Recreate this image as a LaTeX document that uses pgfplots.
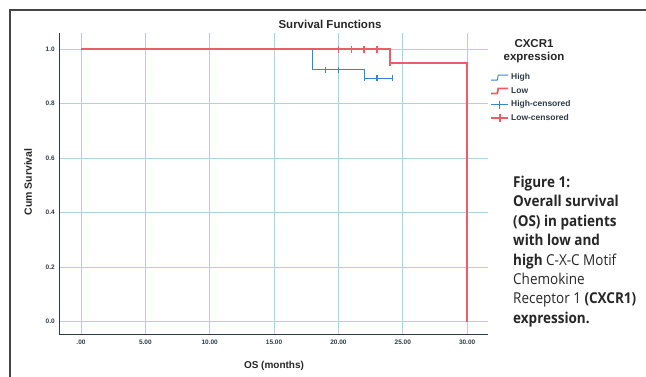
\documentclass[border=0pt]{standalone}
\usepackage{pgfplots}
\pgfplotsset{compat=1.18}
\usepackage{fontspec}
\setmainfont{Liberation Sans}
\newfontfamily\capfont[FakeStretch=0.9]{Open Sans}
\definecolor{hiblue}{RGB}{60,130,205}
\definecolor{lored}{RGB}{232,95,105}
\definecolor{gridc}{RGB}{178,208,222}
\definecolor{tickc}{RGB}{45,60,70}
\definecolor{framec}{RGB}{70,70,70}
\begin{document}
\begin{tikzpicture}
\path[use as bounding box] (0pt,0pt) rectangle (646pt,377pt);
\draw[line width=1.6pt, framec] (10pt,0pt) -- (10pt,367pt) -- (646pt,367pt);
\begin{axis}[
  at={(59.3pt,43pt)}, anchor=south west,
  scale only axis, width=428.7pt, height=301pt,
  xmin=-1.686, xmax=31.62, ymin=-0.045, ymax=1.0587,
  axis x line=bottom, axis y line=left,
  axis line style={-, color=tickc, line width=0.8pt},
  xtick={0,5,10,15,20,25,30},
  xticklabels={.00,5.00,10.00,15.00,20.00,25.00,30.00},
  ytick={0,0.2,0.4,0.6,0.8,1.0},
  yticklabels={0.0,0.2,0.4,0.6,0.8,1.0},
  major tick length=0pt,
  grid=major, grid style={gridc, line width=0.6pt},
  tick label style={font=\fontsize{6.5}{7.5}\selectfont\bfseries, color=tickc},
  /pgf/number format/assume math mode=true,
  xticklabel style={yshift=-2pt},
  yticklabel style={xshift=-1pt},
  clip=false,
  legend style={at={(1.005,0.872)}, anchor=north west, draw=none, fill=none,
    font=\fontsize{8.5}{9.5}\selectfont\bfseries, text=tickc,
    row sep=2pt, inner sep=0pt, cells={anchor=west}},
  legend cell align=left,
]
\addplot[const plot, hiblue, line width=1pt,
  legend image code/.code={\draw[hiblue, line width=0.9pt] (0pt,-2.5pt) -- (6pt,-2.5pt) -- (7pt,2.5pt) -- (17pt,2.5pt);}]
  coordinates {(0,1) (18,0.924) (22,0.893) (24.2,0.893)};
\addlegendentry{High}
\addplot[const plot, lored, line width=2pt,
  legend image code/.code={\draw[lored, line width=1.8pt] (0pt,-2.5pt) -- (6pt,-2.5pt) -- (7pt,2.5pt) -- (17pt,2.5pt);}]
  coordinates {(0,1) (24,0.949) (30,0)};
\addlegendentry{Low}
\addplot[only marks, mark=|, mark size=3.2pt, hiblue, mark options={line width=1.1pt},
  legend image code/.code={\draw[hiblue, line width=0.9pt] (0pt,0pt) -- (17pt,0pt); \draw[hiblue, line width=1pt] (8.5pt,-4pt) -- (8.5pt,4pt);}]
  coordinates {(19,0.924) (20,0.924) (22,0.893) (23,0.893) (24.2,0.893)};
\addlegendentry{High-censored}
\addplot[only marks, mark=|, mark size=3.5pt, lored, mark options={line width=1.6pt},
  legend image code/.code={\draw[lored, line width=1.8pt] (0pt,0pt) -- (17pt,0pt); \draw[lored, line width=1.6pt] (8.5pt,-4pt) -- (8.5pt,4pt);}]
  coordinates {(20,1) (21,1) (22,1) (23,1) (24,0.949)};
\addlegendentry{Low-censored}
\end{axis}
\node[font=\fontsize{11.5}{13}\selectfont\bfseries, color=black!85] at (330pt,353pt) {Survival Functions};
\node[font=\fontsize{10}{12}\selectfont\bfseries, color=black!85] at (274pt,11pt) {OS (months)};
\node[font=\fontsize{10.5}{12}\selectfont\bfseries, color=black!85, rotate=90] at (28pt,195pt) {Cum Survival};
\node[font=\fontsize{11.5}{12.5}\selectfont\bfseries, color=black!85, align=center] at (534pt,326pt) {CXCR1\\expression};
\node[anchor=north west, align=left, inner sep=0pt, color=black!85,
  font=\capfont\fontsize{15}{19.4}\selectfont] at (513pt,201pt)
 {\textbf{Figure 1:}\\
  \textbf{Overall survival}\\
  \textbf{(OS) in patients}\\
  \textbf{with low and}\\
  \textbf{high} C-X-C Motif\\
  Chemokine\\
  Receptor 1 \textbf{(CXCR1)}\\
  \textbf{expression.}};
\end{tikzpicture}
\end{document}
